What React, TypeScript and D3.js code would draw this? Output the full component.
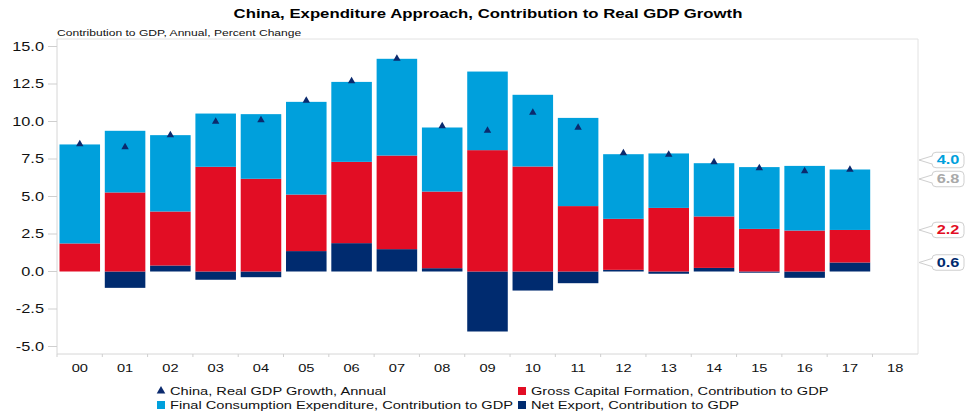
import React from "react";
import * as d3 from "d3";

const years = ["00","01","02","03","04","05","06","07","08","09","10","11","12","13","14","15","16","17","18"];
const fce = [6.6, 4.11, 5.09, 3.55, 4.31, 6.18, 5.33, 6.45, 4.27, 5.24, 4.78, 5.88, 4.31, 3.63, 3.55, 4.12, 4.31, 4.03, null];
const gcf = [1.87, 5.27, 3.6, 6.98, 6.18, 3.77, 5.42, 6.24, 5.11, 8.09, 7.0, 4.36, 3.4, 4.24, 3.43, 2.84, 2.73, 2.17, null];
const nx = [0.0, -1.09, 0.4, -0.55, -0.38, 1.36, 1.89, 1.49, 0.22, -4.0, -1.27, -0.78, 0.11, -0.15, 0.24, -0.08, -0.42, 0.6, null];
const gdp = [8.5, 8.3, 9.1, 10.0, 10.1, 11.4, 12.7, 14.2, 9.7, 9.4, 10.6, 9.6, 7.9, 7.8, 7.3, 6.9, 6.7, 6.8, null];
const yTicks = [-5, -2.5, 0, 2.5, 5, 7.5, 10, 12.5, 15];

const seriesNames = {
  gdp: "China, Real GDP Growth, Annual",
  gcf: "Gross Capital Formation, Contribution to GDP",
  fce: "Final Consumption Expenditure, Contribution to GDP",
  nx: "Net Export, Contribution to GDP",
};
const title = "China, Expenditure Approach, Contribution to Real GDP Growth";
const subtitle = "Contribution to GDP, Annual, Percent Change";

const C = { fce: "#00A0DC", gcf: "#E20D24", nx: "#002B6F", gdp: "#0B2A6E", grey: "#A9A9A9" };
const FONT = '"Liberation Sans", Arial, Helvetica, sans-serif';
const SX = 1.33;

function T({ x, y, size, anchor = "start", weight = "normal", fill = "#1a1a1a", children }: any) {
  return (
    <text
      transform={`translate(${x},${y}) scale(${SX},1)`}
      fontSize={size}
      fontFamily={FONT}
      fontWeight={weight}
      textAnchor={anchor}
      fill={fill}
    >
      {children}
    </text>
  );
}

export default function App() {
  const W = 976, H = 415;
  const L = 57, R = 918, TOP = 39, BOT = 354;
  const x = d3.scaleBand<string>().domain(years).range([L, R]).paddingInner(0.105).paddingOuter(0.055);
  const y = d3.scaleLinear().domain([-5.5, 15.5]).range([BOT, TOP]);
  const step = x.step();

  const rows = years.map((yr, i) => ({ yr, nx: nx[i] ?? 0, gcf: gcf[i] ?? 0, fce: fce[i] ?? 0 }));
  const stacked = d3.stack<any>().keys(["nx", "gcf", "fce"]).offset(d3.stackOffsetDiverging)(rows);
  const colorOf: any = { nx: C.nx, gcf: C.gcf, fce: C.fce };

  const tri = d3.symbol().type(d3.symbolTriangle).size(24)() as string;
  const triLeg = d3.symbol().type(d3.symbolTriangle).size(32)() as string;

  const li = 17;
  const topOf = (key: string) => {
    const s = stacked.find((d) => d.key === key)!;
    return s[li][1];
  };
  const labels: any[] = [
    { text: (fce[li] as number).toFixed(1), v: topOf("fce"), color: C.fce },
    { text: (gdp[li] as number).toFixed(1), v: gdp[li], color: C.grey },
    { text: (gcf[li] as number).toFixed(1), v: topOf("gcf"), color: C.gcf },
    { text: (nx[li] as number).toFixed(1), v: topOf("nx"), color: C.nx },
  ].map((d) => ({ ...d, py: y(d.v as number) }));
  const gap = 19;
  for (let it = 0; it < 60; it++) {
    for (let i = 1; i < labels.length; i++) {
      const d = labels[i].py - labels[i - 1].py;
      if (d < gap) {
        const s = (gap - d) / 2;
        labels[i - 1].py -= s;
        labels[i].py += s;
      }
    }
  }
  const bx0 = 932, bx1 = 964, bh = 15.5, r = 4, tipX = R + 1;
  const calloutPath = (cy: number) => {
    const t = cy - bh / 2, b = cy + bh / 2;
    return `M${bx0 + r},${t} H${bx1 - r} Q${bx1},${t} ${bx1},${t + r} V${b - r} Q${bx1},${b} ${bx1 - r},${b} H${bx0 + r} Q${bx0},${b} ${bx0},${b - r} V${cy + 4} L${tipX},${cy} L${bx0},${cy - 4} V${t + r} Q${bx0},${t} ${bx0 + r},${t} Z`;
  };

  return (
    <svg
      width={W}
      height={H}
      style={{ position: "absolute", left: 0, top: 0, background: "#fff" }}
    >
      <rect width={W} height={H} fill="#fff" />
      <T x={W / 2} y={18.3} size={12.6} anchor="middle" weight="bold" fill="#000">{title}</T>
      <T x={L} y={35.5} size={9.1} fill="#111">{subtitle}</T>

      <path d={`M${L},${TOP} H${R} V${BOT}`} fill="none" stroke="#e2e2e2" strokeWidth={1} />
      <line x1={L} x2={L} y1={TOP} y2={BOT} stroke="#d6d6d6" />
      <line x1={L} x2={R} y1={BOT} y2={BOT} stroke="#d6d6d6" />

      {yTicks.map((t) => (
        <g key={t}>
          <line x1={48} x2={L} y1={y(t)} y2={y(t)} stroke="#cfcfcf" />
          <T x={44} y={y(t) + 4.4} size={12.3} anchor="end" fill="#111">{t.toFixed(1)}</T>
        </g>
      ))}

      {years.map((yr, i) => (
        <g key={yr}>
          <line x1={L + i * step} x2={L + i * step} y1={BOT} y2={BOT + 3} stroke="#cfcfcf" />
          <T x={(x(yr) as number) + x.bandwidth() / 2} y={371.5} size={11} anchor="middle" fill="#111">{yr}</T>
        </g>
      ))}

      {stacked.map((s) => (
        <g key={s.key} fill={colorOf[s.key]}>
          {s.map((d: any, i: number) => {
            const y0 = y(Math.max(d[0], d[1]));
            const y1 = y(Math.min(d[0], d[1]));
            if (y1 - y0 <= 0) return null;
            return (
              <rect key={i} x={x(years[i])} y={y0} width={x.bandwidth()} height={y1 - y0} />
            );
          })}
        </g>
      ))}

      {gdp.map((g, i) =>
        g == null ? null : (
          <path key={i} d={tri} fill={C.gdp} transform={`translate(${(x(years[i]) as number) + x.bandwidth() / 2},${y(g)})`} />
        )
      )}

      {labels.map((l, i) => (
        <g key={i}>
          <path d={calloutPath(l.py)} fill="#fff" stroke="#cfcfcf" strokeWidth={1} />
          <T x={(bx0 + bx1) / 2} y={l.py + 4.4} size={12.3} anchor="middle" weight="bold" fill={l.color}>{l.text}</T>
        </g>
      ))}

      <g>
        <path d={triLeg} fill={C.gdp} transform={`translate(161,391)`} />
        <T x={170} y={395} size={11} fill="#111">{seriesNames.gdp}</T>
        <rect x={518} y={387} width={8} height={8} fill={C.gcf} />
        <T x={531} y={395} size={11} fill="#111">{seriesNames.gcf}</T>
        <rect x={157} y={401} width={8} height={8} fill={C.fce} />
        <T x={170} y={409} size={11} fill="#111">{seriesNames.fce}</T>
        <rect x={518} y={401} width={8} height={8} fill={C.nx} />
        <T x={531} y={409} size={11} fill="#111">{seriesNames.nx}</T>
      </g>
    </svg>
  );
}
